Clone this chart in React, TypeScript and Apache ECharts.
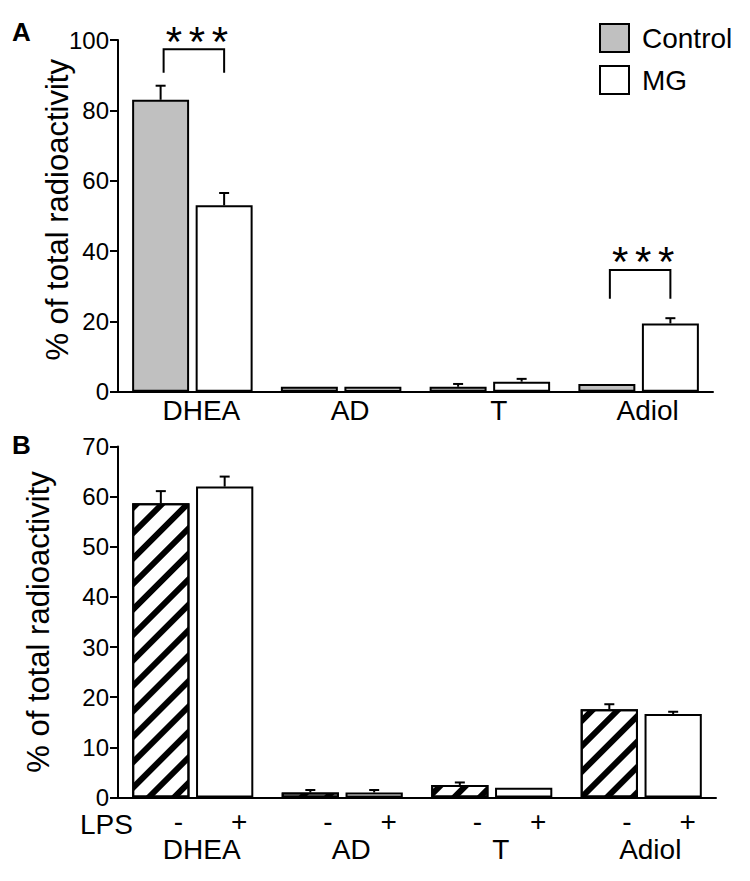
import React, { useEffect, useRef } from "react";
import * as echarts from "echarts";

// ---------- data ----------
const categories = ["DHEA", "AD", "T", "Adiol"];
// Panel A
const controlValues = [83.0, 1.4, 1.4, 2.2];
const controlErrors = [4.0, 0, 0.8, 0];
const mgValues = [53.0, 1.4, 2.85, 19.4];
const mgErrors = [3.5, 0, 0.8, 1.5];
// Panel B
const lpsMinusValues = [58.7, 1.0, 2.5, 17.6];
const lpsMinusErrors = [2.4, 0.5, 0.5, 1.0];
const lpsPlusValues = [62.0, 1.0, 1.95, 16.65];
const lpsPlusErrors = [2.0, 0.5, 0, 0.45];
const lpsSigns = ["-", "+", "-", "+", "-", "+", "-", "+"];
// significance brackets in panel A: category index, leg bottom, bracket top, star level
const sigCategory = [0, 3];
const sigLegBottom = [90.7, 26.4];
const sigTop = [97.4, 34.6];
const sigStarLevel = [102.2, 39.6];
const sigStars = [3, 3];

const FONT = "'Liberation Sans', Arial, Helvetica, sans-serif";
const BAR_W = 0.383;
const BAR_GAP = 0.115;

function pairOffset(band: number) {
  const bw = band * BAR_W;
  return (bw + bw * BAR_GAP) / 2;
}

function errorRender(params: any, api: any) {
  const cat = api.value(0);
  const val = api.value(1);
  const err = api.value(2);
  const side = api.value(3);
  if (!(err > 0)) return { type: "group", children: [] };
  const band = api.size([1, 0])[0];
  const cx = api.coord([cat, 0])[0] + side * pairOffset(band);
  const y0 = api.coord([cat, val])[1];
  const y1 = api.coord([cat, val + err])[1];
  const st = { stroke: "#000", lineWidth: 2 };
  return {
    type: "group",
    children: [
      { type: "line", shape: { x1: cx, y1: y0, x2: cx, y2: y1 }, style: st },
      { type: "line", shape: { x1: cx - 5, y1: y1, x2: cx + 5, y2: y1 }, style: st },
    ],
  };
}

function sigRender(params: any, api: any) {
  const cat = api.value(0);
  const low = api.value(1);
  const top = api.value(2);
  const star = api.value(3);
  const n = api.value(4);
  const band = api.size([1, 0])[0];
  const c = api.coord([cat, 0])[0];
  const off = pairOffset(band);
  const xl = c - off + 3;
  const xr = c + off;
  const yl = api.coord([cat, low])[1];
  const yt = api.coord([cat, top])[1];
  const ys = api.coord([cat, star])[1];
  const fs = 42;
  const children: any[] = [
    {
      type: "polyline",
      shape: { points: [[xl, yl], [xl, yt], [xr, yt], [xr, yl]] },
      style: { stroke: "#000", lineWidth: 2, fill: "none" },
    },
  ];
  const mid = (xl + xr) / 2 + 3;
  for (let k = 0; k < n; k++) {
    children.push({
      type: "text",
      x: mid + (k - (n - 1) / 2) * 23,
      y: ys + 9,
      style: {
        text: "*",
        fontSize: fs,
        fontFamily: FONT,
        fill: "#000",
        align: "center",
        verticalAlign: "middle",
      },
    });
  }
  return { type: "group", children };
}

export default function App() {
  const ref = useRef<HTMLDivElement>(null);
  useEffect(() => {
    if (!ref.current) return;
    const chart = echarts.init(ref.current, null, { renderer: "svg" });

    const errData = (vals: number[], errs: number[], side: number) =>
      vals.map((v, i) => [i, v, errs[i], side]);

    const axisLine = { show: true, lineStyle: { color: "#000", width: 2 } };
    const yAxisCommon = {
      type: "value",
      axisLine,
      axisTick: { show: true, length: 8, lineStyle: { color: "#000", width: 2 } },
      axisLabel: { color: "#000", fontSize: 24, fontFamily: FONT, margin: 9 },
      splitLine: { show: false },
      name: "% of total radioactivity",
      nameLocation: "middle",
      nameMoveOverlap: false,
    };
    const xCat = {
      type: "category",
      data: categories,
      axisLine,
      axisTick: { show: false },
    };
    const barCommon = {
      type: "bar",
      barWidth: BAR_W * 100 + "%",
      barGap: BAR_GAP * 100 + "%",
    };
    const hatch = {
      symbol: "rect",
      symbolSize: 1,
      color: "#000",
      backgroundColor: "#fff",
      dashArrayX: [1, 0],
      dashArrayY: [6, 12],
      rotation: -Math.PI / 4,
    };

    chart.setOption({
      animation: false,
      backgroundColor: "#fff",
      grid: [
        { left: 118, right: 37, top: 40, height: 351.7 },
        { left: 118, right: 34, top: 446.5, height: 351 },
      ],
      legend: {
        data: ["Control", "MG"],
        orient: "vertical",
        left: 599,
        top: 23,
        padding: 0,
        itemWidth: 29,
        itemHeight: 28,
        itemGap: 12,
        icon: "rect",
        itemStyle: { borderColor: "#000", borderWidth: 2 },
        textStyle: { color: "#000", fontSize: 28, fontFamily: FONT, padding: [0, 0, 0, 8] },
      },
      xAxis: [
        {
          ...xCat,
          gridIndex: 0,
          axisLabel: { color: "#000", fontSize: 28, fontFamily: FONT, margin: 5, padding: [0, 0, 0, 18] },
        },
        {
          ...xCat,
          gridIndex: 1,
          axisLabel: { color: "#000", fontSize: 28, fontFamily: FONT, margin: 38, padding: [0, 0, 0, 18] },
        },
        {
          type: "category",
          gridIndex: 1,
          position: "bottom",
          data: lpsSigns,
          axisLine: { show: false },
          axisTick: { show: false },
          axisLabel: {
            interval: 0,
            color: "#000",
            fontSize: 28,
            fontFamily: FONT,
            margin: 10,
            formatter: (v: string) => (v === "-" ? "{m|-}" : "{p|+}"),
            rich: {
              m: { fontSize: 28, fontFamily: FONT, color: "#000", padding: [0, 0, 0, 46] },
              p: { fontSize: 28, fontFamily: FONT, color: "#000", padding: [0, 0, 0, 18] },
            },
          },
        },
      ],
      yAxis: [
        {
          ...yAxisCommon,
          gridIndex: 0,
          min: 0,
          max: 100,
          interval: 20,
          nameGap: 45,
          nameTextStyle: { color: "#000", fontSize: 31, fontFamily: FONT, padding: [0, 0, 0, 12] },
        },
        {
          ...yAxisCommon,
          gridIndex: 1,
          min: 0,
          max: 70,
          interval: 10,
          nameGap: 64,
          nameTextStyle: { color: "#000", fontSize: 31, fontFamily: FONT },
        },
      ],
      graphic: [
        { type: "text", left: 12, top: 19, style: { text: "A", fontSize: 26, fontWeight: "bold", fontFamily: FONT, fill: "#000" } },
        { type: "text", left: 12, top: 432, style: { text: "B", fontSize: 26, fontWeight: "bold", fontFamily: FONT, fill: "#000" } },
        { type: "text", left: 80, top: 810, style: { text: "LPS", fontSize: 28, fontFamily: FONT, fill: "#000" } },
      ],
      series: [
        {
          ...barCommon,
          name: "Control",
          xAxisIndex: 0,
          yAxisIndex: 0,
          data: controlValues,
          itemStyle: { color: "#c0c0c0", borderColor: "#000", borderWidth: 2 },
        },
        {
          ...barCommon,
          name: "MG",
          xAxisIndex: 0,
          yAxisIndex: 0,
          data: mgValues,
          itemStyle: { color: "#fff", borderColor: "#000", borderWidth: 2 },
        },
        {
          ...barCommon,
          name: "LPS -",
          xAxisIndex: 1,
          yAxisIndex: 1,
          data: lpsMinusValues,
          itemStyle: { color: "#fff", borderColor: "#000", borderWidth: 2, decal: hatch },
        },
        {
          ...barCommon,
          name: "LPS +",
          xAxisIndex: 1,
          yAxisIndex: 1,
          data: lpsPlusValues,
          itemStyle: { color: "#fff", borderColor: "#000", borderWidth: 2 },
        },
        {
          type: "custom",
          name: "errA",
          xAxisIndex: 0,
          yAxisIndex: 0,
          renderItem: errorRender,
          data: [...errData(controlValues, controlErrors, -1), ...errData(mgValues, mgErrors, 1)],
          encode: { x: 0, y: 1 },
          z: 5,
        },
        {
          type: "custom",
          name: "errB",
          xAxisIndex: 1,
          yAxisIndex: 1,
          renderItem: errorRender,
          data: [...errData(lpsMinusValues, lpsMinusErrors, -1), ...errData(lpsPlusValues, lpsPlusErrors, 1)],
          encode: { x: 0, y: 1 },
          z: 5,
        },
        {
          type: "custom",
          name: "sig",
          xAxisIndex: 0,
          yAxisIndex: 0,
          clip: false,
          renderItem: sigRender,
          data: sigCategory.map((c, i) => [c, sigLegBottom[i], sigTop[i], sigStarLevel[i], sigStars[i]]),
          encode: { x: 0, y: 1 },
          z: 5,
        },
      ],
    });
    return () => chart.dispose();
  }, []);
  return (
    <div
      ref={ref}
      style={{ position: "fixed", left: 0, top: 0, width: 750, height: 881, background: "#fff" }}
    />
  );
}
